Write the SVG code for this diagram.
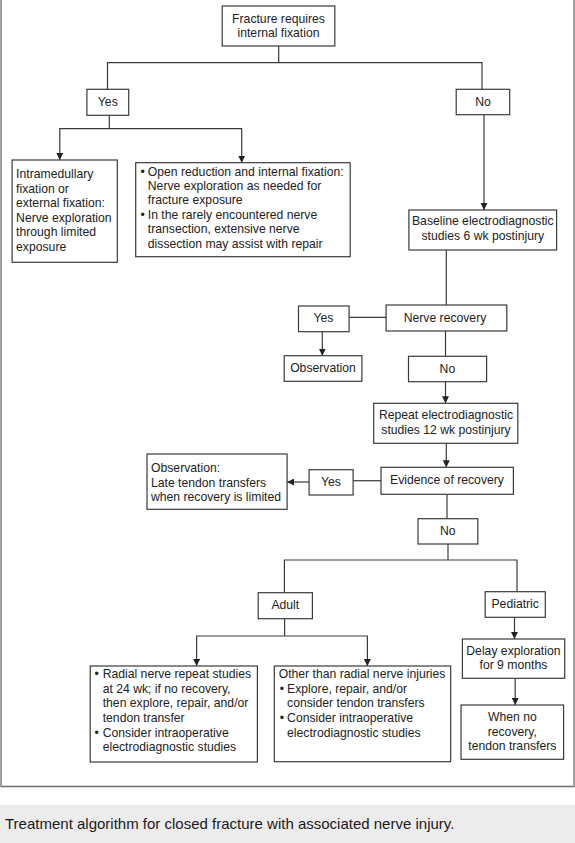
<svg xmlns="http://www.w3.org/2000/svg" width="575" height="843" viewBox="0 0 575 843">
<style>
.box{fill:#fff;stroke:#3a3a3a;stroke-width:1.2}
.t{font-family:"Liberation Sans",Arial,sans-serif;font-size:12.2px;fill:#222}
.c{text-anchor:middle}
.ln{fill:none;stroke:#3a3a3a;stroke-width:1.2}
.cap{font-family:"Liberation Sans",Arial,sans-serif;font-size:15px;fill:#1a1a1a}
</style>
<defs>
<marker id="ah" viewBox="0 0 10 10" refX="10" refY="5" markerWidth="7" markerHeight="7" markerUnits="userSpaceOnUse" orient="auto" preserveAspectRatio="none">
<path d="M0,0 L10,5 L0,10 z" fill="#222"/>
</marker>
</defs>
<rect width="575" height="843" fill="#fff"/>
<path d="M1,0 V786.5 H574 V0" fill="none" stroke="#6e6e6e" stroke-width="1.3"/>
<rect x="0" y="805" width="575" height="38" fill="#ececec"/>
<text class="cap" x="5" y="829">Treatment algorithm for closed fracture with associated nerve injury.</text>

<g id="connectors">
<path class="ln" d="M278.7,46 V62.7"/>
<path class="ln" d="M107.5,89.3 V62.7 H482 V89.3"/>
<path class="ln" d="M109.3,115.3 V128.7"/>
<path class="ln" d="M109.3,128.7 H59.8 V160" marker-end="url(#ah)"/>
<path class="ln" d="M109.3,128.7 H241.7 V162.7" marker-end="url(#ah)"/>
<path class="ln" d="M484,114.7 V210" marker-end="url(#ah)"/>
<path class="ln" d="M446.3,250 V305"/>
<path class="ln" d="M349.1,317.3 H386.1"/>
<path class="ln" d="M322.3,331.7 V355.7" marker-end="url(#ah)"/>
<path class="ln" d="M445.5,331 V356.3"/>
<path class="ln" d="M445.5,381.7 V403.3" marker-end="url(#ah)"/>
<path class="ln" d="M446.3,443.3 V467.3" marker-end="url(#ah)"/>
<path class="ln" d="M381,480.7 H353.1"/>
<path class="ln" d="M309.1,482 H287.1" marker-end="url(#ah)"/>
<path class="ln" d="M447,494.3 V518.7"/>
<path class="ln" d="M448,544 V560"/>
<path class="ln" d="M284.4,592.7 V560 H517 V591.7"/>
<path class="ln" d="M284.6,618.7 V636"/>
<path class="ln" d="M284.6,636 H196.6 V666" marker-end="url(#ah)"/>
<path class="ln" d="M284.6,636 H367.4 V666" marker-end="url(#ah)"/>
<path class="ln" d="M514.5,617.3 V639" marker-end="url(#ah)"/>
<path class="ln" d="M515.2,678.3 V705" marker-end="url(#ah)"/>
</g>

<g id="n-fracture">
<rect class="box" x="222.2" y="6" width="112.6" height="40"/>
<text class="t c" x="278.5" y="22.7">Fracture requires</text>
<text class="t c" x="278.5" y="36.7">internal fixation</text>
</g>
<g id="n-yes1">
<rect class="box" x="86.9" y="89.3" width="41.8" height="26"/>
<text class="t c" x="107.8" y="106">Yes</text>
</g>
<g id="n-no1">
<rect class="box" x="456.2" y="89.3" width="53.5" height="25.4"/>
<text class="t c" x="483" y="106">No</text>
</g>
<g id="n-intramedullary">
<rect class="box" x="12.1" y="160" width="105.2" height="102.3"/>
<text class="t" x="16.1" y="178.3">Intramedullary</text>
<text class="t" x="16.1" y="192.7">fixation or</text>
<text class="t" x="16.1" y="207">external fixation:</text>
<text class="t" x="16.1" y="221.7">Nerve exploration</text>
<text class="t" x="16.1" y="236">through limited</text>
<text class="t" x="16.1" y="250.7">exposure</text>
</g>
<g id="n-orif">
<rect class="box" x="135.7" y="162.7" width="214.5" height="94"/>
<text class="t" x="140.4" y="175.7">•</text>
<text class="t" x="147.8" y="175.7">Open reduction and internal fixation:</text>
<text class="t" x="147.8" y="190">Nerve exploration as needed for</text>
<text class="t" x="147.8" y="204.3">fracture exposure</text>
<text class="t" x="140.4" y="219">•</text>
<text class="t" x="147.8" y="219">In the rarely encountered nerve</text>
<text class="t" x="147.8" y="233.3">transection, extensive nerve</text>
<text class="t" x="147.8" y="247.7">dissection may assist with repair</text>
</g>
<g id="n-baseline">
<rect class="box" x="408.9" y="210" width="147.7" height="40"/>
<text class="t c" x="482.8" y="225.3">Baseline electrodiagnostic</text>
<text class="t c" x="482.8" y="240">studies 6 wk postinjury</text>
</g>
<g id="n-nerve-recovery">
<rect class="box" x="386.1" y="305" width="120.7" height="26"/>
<text class="t c" x="445" y="321.7">Nerve recovery</text>
</g>
<g id="n-yes2">
<rect class="box" x="298.5" y="306" width="50.6" height="25.7"/>
<text class="t c" x="323.4" y="322">Yes</text>
</g>
<g id="n-observation1">
<rect class="box" x="284.2" y="355.7" width="77.7" height="25.6"/>
<text class="t c" x="323" y="372">Observation</text>
</g>
<g id="n-no2">
<rect class="box" x="408.5" y="356.3" width="78.1" height="25.4"/>
<text class="t c" x="447.4" y="372.7">No</text>
</g>
<g id="n-repeat">
<rect class="box" x="373.7" y="403.3" width="144.1" height="40"/>
<text class="t c" x="446" y="419.3">Repeat electrodiagnostic</text>
<text class="t c" x="446" y="434">studies 12 wk postinjury</text>
</g>
<g id="n-evidence">
<rect class="box" x="381" y="467.3" width="132.4" height="27"/>
<text class="t c" x="447" y="484">Evidence of recovery</text>
</g>
<g id="n-yes3">
<rect class="box" x="309.1" y="469.7" width="44" height="25.3"/>
<text class="t c" x="331" y="485.7">Yes</text>
</g>
<g id="n-observation2">
<rect class="box" x="147" y="454" width="140.1" height="55.3"/>
<text class="t" x="151" y="472.3">Observation:</text>
<text class="t" x="151" y="486.7">Late tendon transfers</text>
<text class="t" x="151" y="501.3">when recovery is limited</text>
</g>
<g id="n-no3">
<rect class="box" x="418" y="518.7" width="59.8" height="25.3"/>
<text class="t c" x="447.7" y="535">No</text>
</g>
<g id="n-adult">
<rect class="box" x="258.2" y="592.7" width="54.2" height="26"/>
<text class="t c" x="285.3" y="609.3">Adult</text>
</g>
<g id="n-pediatric">
<rect class="box" x="485.2" y="591.7" width="60.1" height="25.6"/>
<text class="t c" x="515.2" y="608.3">Pediatric</text>
</g>
<g id="n-radial">
<rect class="box" x="90.2" y="666" width="167.2" height="96"/>
<text class="t" x="94.6" y="678.3">•</text>
<text class="t" x="102.7" y="678.3">Radial nerve repeat studies</text>
<text class="t" x="102.7" y="692.7">at 24 wk; if no recovery,</text>
<text class="t" x="102.7" y="707.3">then explore, repair, and/or</text>
<text class="t" x="102.7" y="722">tendon transfer</text>
<text class="t" x="94.6" y="736.7">•</text>
<text class="t" x="102.7" y="736.7">Consider intraoperative</text>
<text class="t" x="102.7" y="751.3">electrodiagnostic studies</text>
</g>
<g id="n-other">
<rect class="box" x="274.3" y="666" width="176.4" height="95.7"/>
<text class="t" x="278.7" y="678.3">Other than radial nerve injuries</text>
<text class="t" x="279.8" y="692.7">•</text>
<text class="t" x="287.1" y="692.7">Explore, repair, and/or</text>
<text class="t" x="287.1" y="707.3">consider tendon transfers</text>
<text class="t" x="279.8" y="722">•</text>
<text class="t" x="287.1" y="722">Consider intraoperative</text>
<text class="t" x="287.1" y="736.7">electrodiagnostic studies</text>
</g>
<g id="n-delay">
<rect class="box" x="462.4" y="639" width="102.3" height="39.3"/>
<text class="t c" x="513.4" y="655">Delay exploration</text>
<text class="t c" x="513.4" y="669.3">for 9 months</text>
</g>
<g id="n-when">
<rect class="box" x="461" y="705" width="102.6" height="54.3"/>
<text class="t c" x="512.3" y="720.7">When no</text>
<text class="t c" x="512.3" y="735.7">recovery,</text>
<text class="t c" x="512.3" y="750.3">tendon transfers</text>
</g>
</svg>
